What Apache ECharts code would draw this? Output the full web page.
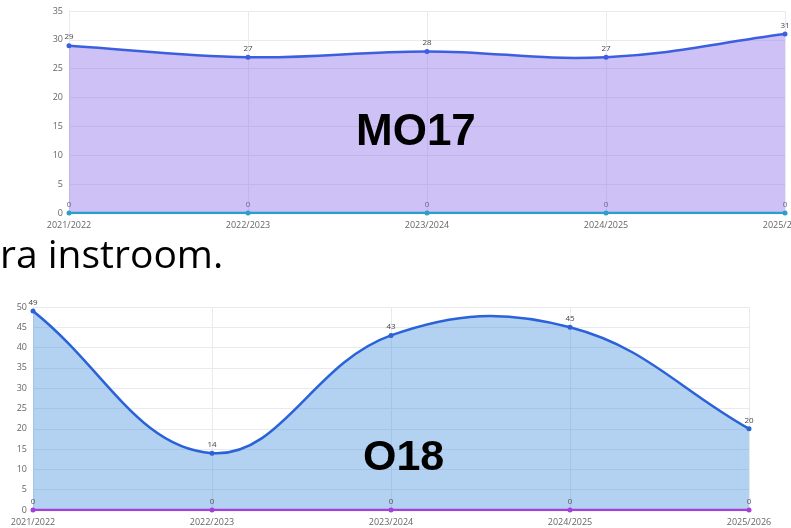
<!DOCTYPE html>
<html>
<head>
<meta charset="utf-8">
<script src="https://cdn.jsdelivr.net/npm/echarts@6/dist/echarts.min.js"></script>
<style>
html,body{margin:0;padding:0;background:#fff;}
#c{width:791px;height:528px;}
</style>
</head>
<body>
<div id="c"></div>
<script>
var categories = ['2021/2022','2022/2023','2023/2024','2024/2025','2025/2026'];
var mo17Values = [29, 27, 28, 27, 31];
var mo17Zero = [0, 0, 0, 0, 0];
var o18Values = [49, 14, 43, 45, 20];
var o18Zero = [0, 0, 0, 0, 0];
var chart1Label = 'MO17';
var chart2Label = 'O18';
var captionText = 'ra instroom.';

var chart = echarts.init(document.getElementById('c'), null, {renderer:'canvas'});
var axisLabel = {color:'#666', fontSize:9, fontFamily:'Open Sans'};
var split = {show:true, lineStyle:{color:'#e9e9ee', width:1}};
function xAxis(gi){
  return {type:'category', gridIndex:gi, data:categories, boundaryGap:false,
    axisLine:{show:false}, axisTick:{show:false}, splitLine:split,
    axisLabel:Object.assign({margin:8, showMinLabel:true, showMaxLabel:true, interval:0, hideOverlap:false}, axisLabel)};
}
function yAxis(gi, max){
  return {type:'value', gridIndex:gi, min:0, max:max, interval:5,
    axisLine:{show:true, lineStyle:{color:'#e9e9ee'}}, axisTick:{show:false}, splitLine:split,
    axisLabel:Object.assign({margin:6}, axisLabel)};
}
// Tension spline (cubic bezier through the points), drawn through the axes' scales
function splinePath(values, api, tension){
  var pts = values.map(function(v,i){ return api.coord([i, v]); });
  var n = pts.length, cps = [];
  for (var i=0;i<n;i++){
    var cur = pts[i], prev = pts[i-1] || cur, next = pts[i+1] || cur;
    var d01 = Math.hypot(cur[0]-prev[0], cur[1]-prev[1]);
    var d12 = Math.hypot(next[0]-cur[0], next[1]-cur[1]);
    var tot = d01 + d12 || 1;
    var fa = tension * d01 / tot, fb = tension * d12 / tot;
    cps.push({
      p:[cur[0] - fa*(next[0]-prev[0]), cur[1] - fa*(next[1]-prev[1])],
      n:[cur[0] + fb*(next[0]-prev[0]), cur[1] + fb*(next[1]-prev[1])]
    });
  }
  var d = 'M' + pts[0][0] + ' ' + pts[0][1];
  for (var j=0;j<n-1;j++){
    d += ' C' + cps[j].n[0] + ' ' + cps[j].n[1] + ' ' + cps[j+1].p[0] + ' ' + cps[j+1].p[1] + ' ' + pts[j+1][0] + ' ' + pts[j+1][1];
  }
  return {d:d, pts:pts};
}
function curveSeries(values, gi, lineColor, fillColor){
  return {
    type:'custom', xAxisIndex:gi, yAxisIndex:gi, z:2, silent:true,
    data: values.map(function(v,i){ return [i, v]; }),
    encode:{x:0, y:1},
    clip:true,
    renderItem:function(params, api){
      if (params.dataIndex !== 0) return null;
      var sp = splinePath(values, api, 0.4);
      var base = api.coord([0, 0])[1];
      var last = sp.pts[sp.pts.length-1], first = sp.pts[0];
      var area = sp.d + ' L' + last[0] + ' ' + base + ' L' + first[0] + ' ' + base + ' Z';
      return {type:'group', children:[
        {type:'path', shape:{pathData:area}, style:{fill:fillColor, stroke:null}},
        {type:'path', shape:{pathData:sp.d}, style:{fill:null, stroke:lineColor, lineWidth:2.5}}
      ]};
    }
  };
}
var lbl = {show:true, position:'top', distance:2, color:'#444', fontSize:8, fontFamily:'Open Sans'};
function pointSeries(values, gi, color, labelColor, z){
  return {type:'line', xAxisIndex:gi, yAxisIndex:gi, data:values, z:z,
    symbol:'circle', symbolSize:5, showAllSymbol:true,
    lineStyle:{color:color, width:2.5},
    itemStyle:{color:color}, label:Object.assign({}, lbl, {color:labelColor})};
}
var s1 = pointSeries(mo17Values, 0, '#3c5fe0', '#444', 3); s1.lineStyle = {opacity:0};
var s3 = pointSeries(o18Values, 1, '#2a62d8', '#444', 3); s3.lineStyle = {opacity:0};
chart.setOption({
  animation:false,
  grid:[
    {left:69, right:6, top:11, height:202, containLabel:false, outerBoundsMode:'none'},
    {left:33, right:42, top:307, height:203, containLabel:false, outerBoundsMode:'none'}
  ],
  xAxis:[xAxis(0), xAxis(1)],
  yAxis:[yAxis(0,35), yAxis(1,50)],
  series:[
    curveSeries(mo17Values, 0, '#3c5fe0', 'rgba(150,125,235,0.48)'),
    s1,
    pointSeries(mo17Zero, 0, '#2a9fcb', '#6a6490', 4),
    curveSeries(o18Values, 1, '#2a62d8', 'rgba(65,140,218,0.4)'),
    s3,
    pointSeries(o18Zero, 1, '#a540d8', '#555', 4)
  ],
  graphic:[
    {type:'text', left:356, top:111, z:100, style:{text:chart1Label, font:'bold 44px "Liberation Sans"', fill:'#000'}},
    {type:'text', left:363, top:437, z:100, style:{text:chart2Label, font:'bold 43px "Liberation Sans"', fill:'#000'}},
    {type:'text', left:0, top:237, z:100, style:{text:captionText, font:'39px "Open Sans"', fill:'#000'}}
  ]
});
</script>
</body>
</html>
